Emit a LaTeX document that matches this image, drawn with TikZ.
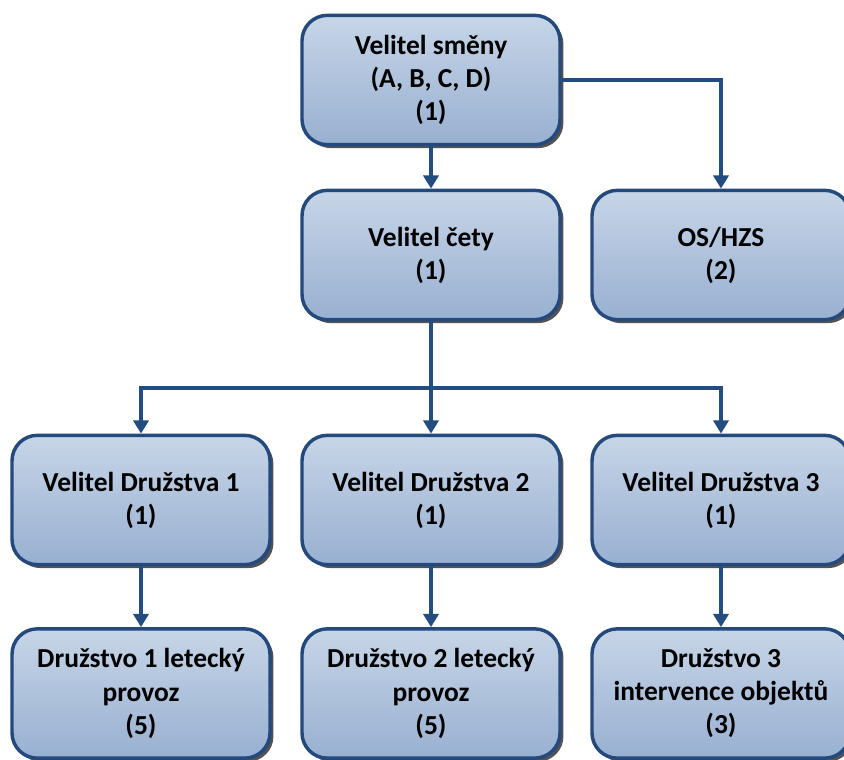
\documentclass[tikz,border=0pt]{standalone}
\usepackage{fontspec}
\setmainfont{Carlito}
\usetikzlibrary{arrows.meta,shadows,positioning}
\definecolor{boxtop}{HTML}{C7D5E7}
\definecolor{boxbot}{HTML}{98B0D1}
\definecolor{boxline}{HTML}{24497C}
\definecolor{conline}{HTML}{234C80}
\tikzset{
  orgbox/.style={draw=boxline, line width=2.6pt, rounded corners=19pt,
    top color=boxtop, bottom color=boxbot,
    minimum width=193.5pt, minimum height=97pt, align=center,
    font=\fontsize{20.6}{24.8}\selectfont\bfseries, text=black,
    drop shadow={shadow xshift=2.6pt, shadow yshift=-2.6pt, fill=black!75, opacity=0.9}},
  conn/.style={draw=conline, line width=2.4pt},
  arr/.style={conn, -{Triangle[width=11.5pt,length=10pt]}}
}
\begin{document}
\begin{tikzpicture}[x=0.75pt,y=-0.75pt]
\useasboundingbox (0,0) rectangle (844,760);
\node[orgbox] (vs) at (431,80) {Velitel směny\\(A, B, C, D)\\(1)};
\node[orgbox] (vc) at (431,255) {Velitel čety\\(1)};
\node[orgbox] (os) at (721,255) {OS/HZS\\(2)};
\node[orgbox] (vd1) at (141,500) {Velitel Družstva 1\\(1)};
\node[orgbox] (vd2) at (431,500) {Velitel Družstva 2\\(1)};
\node[orgbox] (vd3) at (721,500) {Velitel Družstva 3\\(1)};
\node[orgbox] (d1) at (141,693.5) {Družstvo 1 letecký\\provoz\\(5)};
\node[orgbox] (d2) at (431,693.5) {Družstvo 2 letecký\\provoz\\(5)};
\node[orgbox] (d3) at (721,693.5) {Družstvo 3\\intervence objektů\\(3)};
\coordinate (bus) at (431,388);
\draw[arr] (vs) -- (vc);
\draw[arr] (vs.east) -| (os.north);
\draw[conn] (vc.south) -- (bus);
\draw[arr] (bus) -| (vd1.north);
\draw[arr] (bus) -- (vd2.north);
\draw[arr] (bus) -| (vd3.north);
\draw[arr] (vd1) -- (d1);
\draw[arr] (vd2) -- (d2);
\draw[arr] (vd3) -- (d3);
\end{tikzpicture}
\end{document}
